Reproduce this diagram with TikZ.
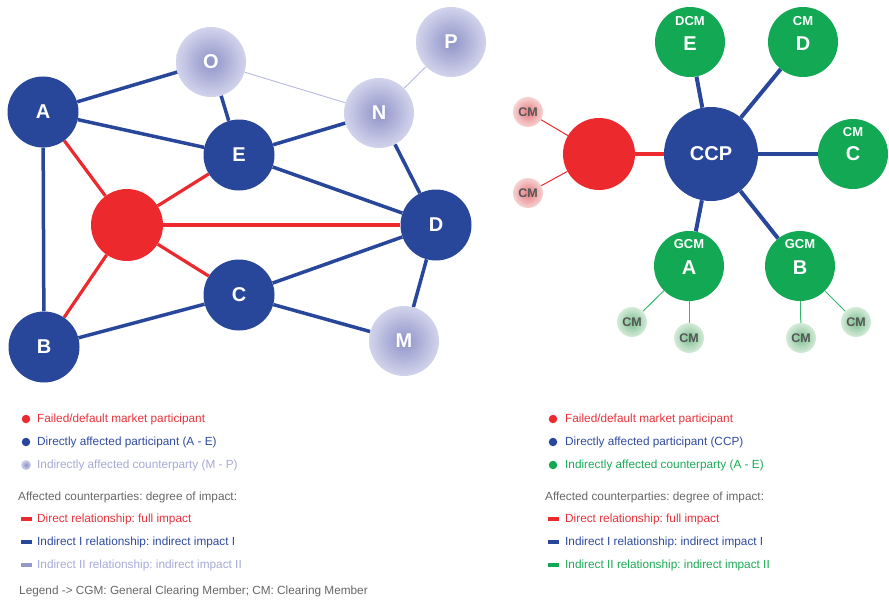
\documentclass[tikz,border=0pt]{standalone}
\usepackage{fontspec}
\setmainfont{Liberation Sans}
\usetikzlibrary{backgrounds}
\frenchspacing
\definecolor{dblue}{HTML}{29479A}
\definecolor{dred}{HTML}{EC2A2E}
\definecolor{dgreen}{HTML}{13A854}
\definecolor{lav}{HTML}{8F93C7}
\definecolor{lavout}{HTML}{D2D4EC}
\definecolor{lavline}{HTML}{B6B9DE}
\definecolor{lavtext}{HTML}{A6A9D6}
\definecolor{lavdash}{HTML}{9498C8}
\definecolor{gtext}{HTML}{666666}
\definecolor{pinkin}{HTML}{E47A7E}
\definecolor{pinkout}{HTML}{F7D3D3}
\definecolor{grnin}{HTML}{7DBE8E}
\definecolor{grnout}{HTML}{D4EBD9}
\definecolor{cmtext}{HTML}{555555}
\definecolor{ltext}{HTML}{E8303A}
\definecolor{btext}{HTML}{2E4A9E}
\definecolor{gntext}{HTML}{1AAA55}
\tikzset{
  bluenode/.style={circle, fill=dblue, minimum size=71, inner sep=0, text=white, font=\fontsize{20}{20}\selectfont\bfseries},
  lavnode/.style={circle, inner color=lav, outer color=lavout, minimum size=70, inner sep=0, text=white, font=\fontsize{20}{20}\selectfont\bfseries},
  failnode/.style={circle, fill=dred, minimum size=72, inner sep=0},
  ccpnode/.style={circle, fill=dblue, minimum size=94, inner sep=0, text=white, font=\fontsize{20}{20}\selectfont\bfseries},
  gnode/.style={circle, fill=dgreen, minimum size=70, inner sep=0},
  toplab/.style={inner sep=0, text=white, font=\fontsize{13}{13}\selectfont\bfseries},
  biglab/.style={inner sep=0, text=white, font=\fontsize{20}{20}\selectfont\bfseries},
  pinkcm/.style={circle, inner color=pinkin, outer color=pinkout, minimum size=30, inner sep=0, text=cmtext, font=\fontsize{12.5}{12.5}\selectfont\bfseries},
  greencm/.style={circle, inner color=grnin, outer color=grnout, minimum size=30, inner sep=0, text=cmtext, font=\fontsize{12.5}{12.5}\selectfont\bfseries},
  bedge/.style={draw=dblue, line width=3.5pt},
  redge/.style={draw=dred, line width=3.2pt},
  ledge/.style={draw=lavline, line width=0.9pt},
  thinred/.style={draw=dred, line width=1pt},
  thingreen/.style={draw=dgreen!85!white, line width=1pt},
  legtext/.style={anchor=west, inner sep=0, font=\fontsize{11.8}{13}\selectfont},
  dot/.style={circle, minimum size=8.5, inner sep=0},
  dashbox/.style={rectangle, minimum width=11, minimum height=4, inner sep=0},
}
\begin{document}
\begin{tikzpicture}[x=1pt, y=-1pt]
\useasboundingbox (0,0) rectangle (889,602);
% ---------- left network ----------
\node[bluenode] (A) at (43,112) {A};
\node[lavnode] (O) at (211,62) {O};
\node[lavnode] (P) at (451,42) {P};
\node[lavnode] (N) at (379,113) {N};
\node[bluenode] (E) at (239,155) {E};
\node[failnode] (F) at (127,225) {};
\node[bluenode] (D) at (436,225) {D};
\node[bluenode] (C) at (239,295) {C};
\node[bluenode] (B) at (44,347) {B};
\node[lavnode] (M) at (404,341) {M};
% ---------- right network ----------
\node[gnode] (gE) at (690,42) {};
\node[toplab] (gEt) at ([yshift=21pt]gE.center) {DCM};
\node[biglab] (gEb) at ([yshift=-1.5pt]gE.center) {E};
\node[gnode] (gD) at (803,42) {};
\node[toplab] (gDt) at ([yshift=21pt]gD.center) {CM};
\node[biglab] (gDb) at ([yshift=-1.5pt]gD.center) {D};
\node[ccpnode] (CCP) at (711,154) {CCP};
\node[gnode] (gC) at (853,154) {};
\node[toplab] (gCt) at ([yshift=22pt]gC.center) {CM};
\node[biglab] (gCb) at (gC.center) {C};
\node[failnode] (F2) at (599,154) {};
\node[gnode] (gA) at (689,266) {};
\node[toplab] (gAt) at ([yshift=22pt]gA.center) {GCM};
\node[biglab] (gAb) at ([yshift=-2pt]gA.center) {A};
\node[gnode] (gB) at (800,266) {};
\node[toplab] (gBt) at ([yshift=22pt]gB.center) {GCM};
\node[biglab] (gBb) at ([yshift=-2pt]gB.center) {B};
\node[pinkcm] (r1) at (528,112) {CM};
\node[pinkcm] (r2) at (528,193) {CM};
\node[greencm] (a1) at (632,322) {CM};
\node[greencm] (a2) at (689,338) {CM};
\node[greencm] (b1) at (801,338) {CM};
\node[greencm] (b2) at (856,322) {CM};
% ---------- connectors ----------
\begin{pgfonlayer}{background}
\draw[bedge] (A) -- (O);
\draw[bedge] (A) -- (E);
\draw[bedge] (A) -- (B);
\draw[bedge] (O) -- (E);
\draw[bedge] (E) -- (N);
\draw[bedge] (E) -- (D);
\draw[bedge] (N) -- (D);
\draw[bedge] (B) -- (C);
\draw[bedge] (C) -- (D);
\draw[bedge] (C) -- (M);
\draw[bedge] (D) -- (M);
\draw[ledge] (O) -- (N);
\draw[ledge] (N) -- (P);
\draw[redge] (F) -- (A);
\draw[redge] (F) -- (E);
\draw[redge] (F) -- (D);
\draw[redge] (F) -- (C);
\draw[redge] (F) -- (B);
\draw[bedge, line width=4pt] (CCP) -- (gE);
\draw[bedge, line width=4pt] (CCP) -- (gD);
\draw[bedge, line width=4pt] (CCP) -- (gC);
\draw[bedge, line width=4pt] (CCP) -- (gA);
\draw[bedge, line width=4pt] (CCP) -- (gB);
\draw[redge, line width=4pt] (F2) -- (CCP);
\draw[thinred] (F2) -- (r1);
\draw[thinred] (F2) -- (r2);
\draw[thingreen] (gA) -- (a1);
\draw[thingreen] (gA) -- (a2);
\draw[thingreen] (gB) -- (b1);
\draw[thingreen] (gB) -- (b2);
\end{pgfonlayer}
% ---------- left legend ----------
\node[dot, fill=dred] (l1d) at (26,419) {};
\node[legtext, text=ltext] (l1) at (37,419) {Failed/default market participant};
\node[dot, fill=dblue] (l2d) at (26,442) {};
\node[legtext, text=btext] (l2) at (37,442) {Directly affected participant (A - E)};
\node[dot, inner color=lav, outer color=lavout, minimum size=10] (l3d) at (26,465) {};
\node[legtext, text=lavtext] (l3) at (37,465) {Indirectly affected counterparty (M - P)};
\node[legtext, text=gtext] (l4) at (18,497) {Affected counterparties: degree of impact:};
\node[dashbox, fill=dred] (l5d) at (26.5,519) {};
\node[legtext, text=ltext] (l5) at (37,519) {Direct relationship: full impact};
\node[dashbox, fill=dblue] (l6d) at (26.5,542) {};
\node[legtext, text=btext] (l6) at (37,542) {Indirect I relationship: indirect impact I};
\node[dashbox, fill=lavdash] (l7d) at (26.5,565) {};
\node[legtext, text=lavtext] (l7) at (37,565) {Indirect II relationship: indirect impact II};
\node[legtext, text=gtext] (l8) at (19,591) {Legend -> CGM: General Clearing Member; CM: Clearing Member};
% ---------- right legend ----------
\node[dot, fill=dred] (m1d) at (553,419) {};
\node[legtext, text=ltext] (m1) at (565,419) {Failed/default market participant};
\node[dot, fill=dblue] (m2d) at (553,442) {};
\node[legtext, text=btext] (m2) at (565,442) {Directly affected participant (CCP)};
\node[dot, fill=dgreen] (m3d) at (553,465) {};
\node[legtext, text=gntext] (m3) at (565,465) {Indirectly affected counterparty (A - E)};
\node[legtext, text=gtext] (m4) at (545,497) {Affected counterparties: degree of impact:};
\node[dashbox, fill=dred] (m5d) at (553.5,519) {};
\node[legtext, text=ltext] (m5) at (565,519) {Direct relationship: full impact};
\node[dashbox, fill=dblue] (m6d) at (553.5,542) {};
\node[legtext, text=btext] (m6) at (565,542) {Indirect I relationship: indirect impact I};
\node[dashbox, fill=dgreen] (m7d) at (553.5,565) {};
\node[legtext, text=gntext] (m7) at (565,565) {Indirect II relationship: indirect impact II};
\end{tikzpicture}
\end{document}
